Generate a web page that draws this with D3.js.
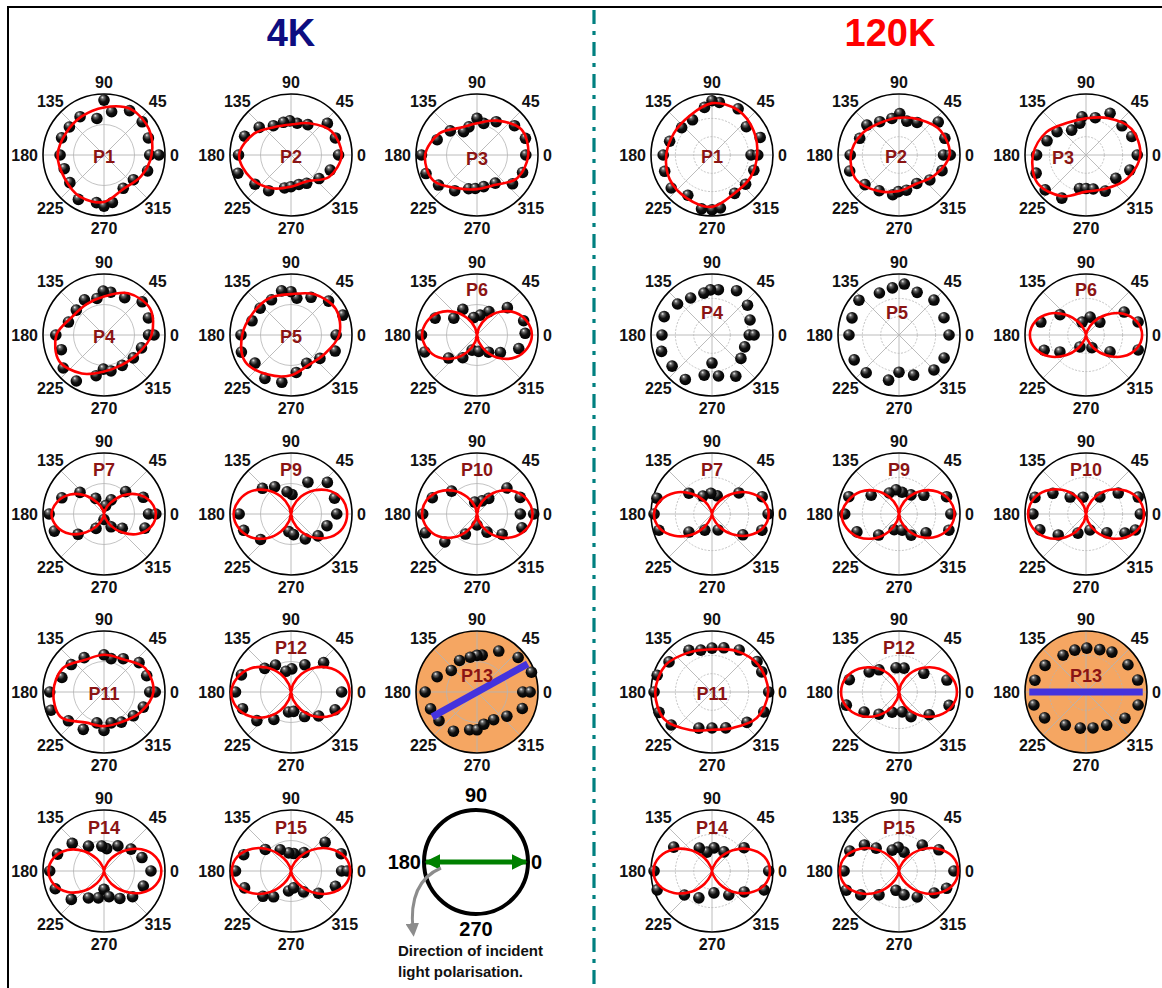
<!DOCTYPE html>
<html>
<head>
<meta charset="utf-8">
<script src="https://cdn.jsdelivr.net/npm/d3@7"></script>
<style>
  html, body { margin: 0; padding: 0; background: #fff; }
  svg { display: block; font-family: "Liberation Sans", Arial, sans-serif; }
</style>
</head>
<body>
<svg id="chart" width="1162" height="988"></svg>
<script>
// ---- Polar-plot data: each point is [angle in degrees, normalised intensity] ----
// Fit curves are radii sampled evenly around the full circle starting at 0 deg.

const temperatures = ["4K", "120K"];
const angleTicks = [0, 45, 90, 135, 180, 225, 270, 315];

// 4 K
const p1_4K = [[0,.75],[0,.90],[21,.78],[41,.83],[60,.84],[80,.72],[90,.90],[101,.61],[122,.74],[141,.73],[158,.75],[180,.72],[199,.69],[219,.72],[240,.84],[261,.79],[270,.84],[280,.79],[300,.63],[320,.63],[340,.76]];
const fit1_4K = [.78,.85,.87,.78,.73,.72,.76,.75,.79,.77,.64,.70];
const p2_4K = [[0,.78],[21,.78],[41,.79],[61,.57],[79,.53],[92,.56],[103,.55],[121,.56],[139,.69],[158,.82],[180,.86],[199,.92],[219,.76],[238,.69],[259,.55],[270,.52],[285,.50],[299,.53],[320,.60],[339,.69]];
const fit2_4K = [.83,.77,.60,.50,.53,.70,.85,.76,.63,.52,.50,.72];
const p3_4K = [[0,.80],[19,.84],[38,.78],[60,.63],[78,.53],[90,.60],[106,.48],[120,.44],[138,.59],[159,.70],[180,.91],[200,.89],[218,.80],[238,.69],[256,.57],[267,.55],[282,.53],[303,.55],[321,.75],[339,.80]];
const fit3_4K = [.84,.84,.65,.52,.52,.71,.85,.83,.63,.56,.57,.76];
const p4_4K = [[0,.73],[0,.82],[21,.78],[41,.83],[61,.70],[81,.71],[91,.72],[101,.61],[119,.66],[138,.61],[160,.62],[180,.79],[199,.74],[219,.86],[239,.88],[259,.68],[269,.56],[281,.60],[301,.58],[322,.61],[341,.65]];
const fit4_4K = [.78,.87,.79,.63,.58,.60,.78,.85,.73,.60,.57,.63];
const p5_4K = [[0,.74],[21,.91],[42,.83],[62,.70],[81,.61],[90,.71],[102,.74],[119,.66],[139,.67],[160,.68],[180,.82],[199,.86],[218,.75],[239,.83],[259,.79],[278,.62],[299,.53],[321,.61],[340,.77]];
const fit5_4K = [.79,.85,.77,.67,.70,.72,.80,.87,.75,.66,.57,.63];
const p6_4K = [[2,.79],[17,.80],[42,.67],[63,.43],[81,.33],[101,.29],[119,.48],[144,.47],[158,.74],[180,.91],[198,.90],[219,.60],[238,.44],[252,.26],[276,.27],[304,.34],[323,.48],[342,.72]];
const fit6_4K = [.90,.85,.73,.54,.32,.12,0,.12,.32,.54,.73,.85,.90,.85,.73,.54,.32,.12,0,.12,.32,.54,.73,.85];
const p7_4K = [[0,.73],[0,.85],[23,.70],[46,.51],[63,.26],[79,.14],[118,.29],[138,.53],[159,.74],[180,.90],[199,.86],[218,.54],[241,.27],[270,.09],[299,.24],[322,.38],[341,.71]];
const fit7_4K = [.85,.79,.64,.43,.21,.06,0,.06,.21,.43,.64,.79,.86,.80,.65,.43,.22,.06,0,.06,.22,.43,.65,.80];
const p9_4K = [[0,.75],[20,.76],[41,.79],[62,.59],[87,.32],[100,.37],[121,.52],[138,.63],[180,.85],[199,.82],[220,.65],[263,.29],[277,.34],[300,.47],[321,.57],[342,.62]];
const fit9_4K = [.92,.88,.75,.55,.33,.12,0,.12,.33,.55,.75,.88,.94,.89,.76,.56,.33,.12,0,.12,.33,.55,.75,.88];
const p10_4K = [[0,.71],[0,.93],[21,.76],[41,.65],[53,.32],[69,.23],[101,.20],[138,.56],[160,.78],[180,.89],[200,.90],[221,.70],[240,.38],[270,.18],[299,.34],[321,.53],[343,.77]];
const fit10_4K = [.91,.86,.73,.54,.32,.12,0,.12,.32,.54,.73,.86,.90,.85,.73,.54,.32,.12,0,.12,.32,.54,.73,.86];
const p11_4K = [[0,.75],[0,.84],[21,.75],[40,.75],[60,.63],[78,.56],[90,.61],[120,.65],[140,.70],[161,.73],[180,.89],[199,.92],[219,.75],[241,.70],[257,.52],[270,.63],[283,.52],[300,.57],[321,.62],[339,.69]];
const fit11_4K = [.81,.78,.62,.61,.61,.78,.83,.82,.58,.56,.57,.68];
const p12_4K = [[0,.83],[42,.72],[63,.50],[88,.38],[104,.35],[120,.51],[138,.58],[161,.86],[180,.91],[199,.84],[220,.73],[238,.53],[263,.33],[278,.32],[299,.46],[319,.60],[338,.78]];
const fit12_4K = [.96,.91,.77,.57,.34,.13,0,.13,.34,.57,.77,.91,.98,.93,.79,.58,.35,.13,0,.13,.34,.57,.77,.91];
const p13_4K = [[0,.75],[0,.87],[20,.95],[40,.88],[62,.76],[82,.61],[90,.60],[101,.58],[119,.59],[140,.55],[159,.70],[180,.85],[200,.81],[217,.78],[239,.75],[259,.63],[270,.62],[282,.54],[301,.53],[321,.63],[340,.79]];
const axis13_4K = [[209,.84],[29,.95]];
const p14_4K = [[0,.77],[19.5,.66],[39,.57],[61,.47],[83,.37],[95,.41],[122,.48],[139,.69],[160,.81],[180,.89],[200,.85],[221,.71],[240,.51],[258,.45],[270,.30],[281,.43],[300,.52],[318,.63],[339,.69]];
const fit14_4K = [.94,.88,.71,.47,.24,.06,0,.06,.23,.46,.69,.85,.91,.85,.69,.46,.23,.06,0,.06,.24,.47,.71,.88];
const p15_4K = [[0,.83],[0,.92],[19,.87],[40,.73],[55,.37],[81,.29],[97,.30],[117,.39],[140,.55],[161,.82],[180,.91],[200,.81],[222,.62],[236,.51],[263,.33],[279,.28],[301,.40],[321,.58],[341,.77]];
const fit15_4K = [.97,.91,.73,.49,.24,.07,0,.07,.24,.49,.73,.91,.97,.91,.73,.49,.24,.07,0,.07,.24,.49,.73,.91];

// 120 K
const p1_120K = [[0,.64],[0,.75],[20,.84],[39.5,.73],[60.5,.87],[82,.87],[90,.89],[99,.79],[119,.66],[138,.67],[162,.73],[180,.80],[199,.82],[219,.86],[239,.77],[259,.90],[270,.90],[279,.88],[300.6,.73],[319,.73],[340,.73]];
const fit1_120K = [.74,.79,.85,.85,.74,.72,.75,.80,.82,.85,.73,.73];
const p2_120K = [[0,.73],[0,.84],[20,.80],[40,.84],[61,.61],[77,.57],[89,.68],[101,.61],[120,.63],[137,.72],[157,.70],[180,.80],[198,.85],[221,.74],[241,.67],[261,.66],[269,.60],[282,.59],[302,.55],[321,.65],[340,.75]];
const fit2_120K = [.83,.79,.67,.61,.61,.70,.79,.81,.68,.59,.55,.67];
const p3_120K = [[0,.84],[22,.81],[39,.76],[60,.79],[76,.63],[96,.63],[101,.53],[120,.47],[141,.61],[160,.68],[180,.81],[200,.87],[220.5,.88],[240.7,.81],[259,.56],[270,.55],[282,.57],[298,.67],[322,.62],[341,.76]];
const fit3_120K = [.89,.86,.70,.60,.61,.75,.87,.92,.78,.60,.64,.78];
const p4_120K = [[0,.61],[0,.69],[21.5,.67],[40,.76],[61,.83],[82,.75],[92,.74],[101,.70],[120,.70],[138,.76],[159,.84],[180,.82],[198,.87],[218,.83],[239,.85],[259,.67],[270,.46],[279,.68],[300,.78],[321,.61],[340,.57]];
const p5_120K = [[0,.82],[21,.79],[45,.81],[67,.76],[84,.84],[98,.78],[115,.76],[139,.87],[160,.82],[180,.82],[209,.84],[229,.82],[257,.76],[270,.61],[290,.70],[315,.81],[333,.83]];
const p6_120K = [[14,.88],[31,.73],[43,.31],[77,.30],[107,.22],[142,.54],[164,.77],[200,.73],[213,.51],[243,.22],[295,.23],[325,.48],[344,.89]];
const fit6_120K = [.92,.86,.70,.47,.24,.06,0,.06,.24,.47,.70,.86,.92,.86,.70,.47,.24,.06,0,.06,.24,.47,.70,.86];
const p7_120K = [[0,.92],[19,.87],[38,.56],[74,.31],[93,.34],[117,.33],[138,.51],[164,.94],[180,.95],[197,.91],[218,.48],[246,.29],[291,.28],[326,.61],[342,.86]];
const fit7_120K = [.93,.87,.70,.47,.24,.06,0,.06,.24,.47,.70,.87,.95,.89,.71,.48,.24,.06,0,.06,.24,.47,.70,.87];
const p9_120K = [[0,.85],[20,.83],[37,.51],[58,.37],[82,.36],[97,.40],[115,.38],[146,.55],[161,.87],[180,.89],[203,.75],[226,.48],[253,.27],[281,.27],[300,.40],[325,.54],[342,.86]];
const fit9_120K = [.91,.86,.73,.54,.32,.12,0,.12,.32,.54,.73,.86,.94,.89,.76,.56,.33,.12,0,.12,.32,.54,.73,.86];
const p10_120K = [[0,.89],[18,.90],[33,.63],[51,.36],[100,.28],[133,.38],[148,.64],[162,.88],[180,.87],[199,.80],[217,.57],[247,.34],[284,.27],[318,.46],[334,.71],[342,.85]];
const fit10_120K = [.95,.90,.76,.56,.34,.13,0,.13,.34,.56,.76,.90,.95,.90,.76,.56,.34,.13,0,.13,.34,.56,.76,.90];
const p11_120K = [[0,.93],[22,.88],[34,.89],[57,.82],[75,.75],[90,.72],[105,.71],[119,.78],[145,.86],[163,.94],[180,.95],[201,.93],[219,.86],[250,.63],[270,.59],[291,.63],[319,.76],[339,.91]];
const fit11_120K = [.92,.88,.78,.70,.75,.88,.93,.90,.72,.62,.68,.85];
const p12_120K = [[14,.81],[37,.51],[78,.40],[97,.40],[132,.49],[146,.59],[166,.84],[194,.89],[210,.66],[228,.49],[251,.35],[279,.33],[296,.45],[323,.62],[345,.85]];
const fit12_120K = [.95,.90,.76,.56,.34,.13,0,.13,.34,.56,.76,.90,.95,.90,.76,.56,.34,.13,0,.13,.34,.56,.76,.90];
const p13_120K = [[13,.87],[33,.82],[57,.78],[72,.73],[89,.72],[105,.71],[122,.71],[147,.80],[167,.86],[194,.88],[212,.80],[238,.64],[261,.60],[281,.60],[302,.64],[326,.77],[346,.88]];
const axis13_120K = [[180,.93],[0,.93]];
const p14_120K = [[0,.93],[36,.65],[58,.37],[85,.38],[105,.32],[119,.43],[148,.74],[180,.95],[199,.95],[221,.60],[244,.49],[275,.36],[305,.48],[327,.63],[340,.91]];
const fit14_120K = [.95,.89,.71,.48,.24,.06,0,.06,.24,.48,.71,.89,.96,.90,.72,.48,.24,.06,0,.06,.24,.48,.71,.89];
const p15_120K = [[0,.90],[28,.74],[48,.57],[75,.32],[92,.39],[108,.36],[135,.53],[143,.71],[158,.87],[180,.90],[200,.92],[212,.74],[230,.51],[261,.32],[282,.40],[305,.52],[328,.68],[340,.83]];
const fit15_120K = [.97,.91,.73,.49,.24,.07,0,.07,.24,.49,.73,.91,.97,.91,.73,.49,.24,.07,0,.07,.24,.49,.73,.91];

// Legend
const legendTicks = [0, 90, 180, 270];
const legendText = ["Direction of incident", "light polarisation."];

// ---- Panel table (grid slot, label, data) ----
const panels = [
  {t:0, row:0, col:0, name:"P1",  pts:p1_4K,  fit:fit1_4K,  lab:[0,2]},
  {t:0, row:0, col:1, name:"P2",  pts:p2_4K,  fit:fit2_4K,  lab:[0,2]},
  {t:0, row:0, col:2, name:"P3",  pts:p3_4K,  fit:fit3_4K,  lab:[0,4]},
  {t:0, row:1, col:0, name:"P4",  pts:p4_4K,  fit:fit4_4K,  lab:[0,2]},
  {t:0, row:1, col:1, name:"P5",  pts:p5_4K,  fit:fit5_4K,  lab:[0,2]},
  {t:0, row:1, col:2, name:"P6",  pts:p6_4K,  fit:fit6_4K,  lab:[0,-45]},
  {t:0, row:2, col:0, name:"P7",  pts:p7_4K,  fit:fit7_4K,  lab:[0,-44]},
  {t:0, row:2, col:1, name:"P9",  pts:p9_4K,  fit:fit9_4K,  lab:[0,-44]},
  {t:0, row:2, col:2, name:"P10", pts:p10_4K, fit:fit10_4K, lab:[0,-44]},
  {t:0, row:3, col:0, name:"P11", pts:p11_4K, fit:fit11_4K, lab:[0,2]},
  {t:0, row:3, col:1, name:"P12", pts:p12_4K, fit:fit12_4K, lab:[0,-44]},
  {t:0, row:3, col:2, name:"P13", pts:p13_4K, axis:axis13_4K, shade:true, lab:[0,-16]},
  {t:0, row:4, col:0, name:"P14", pts:p14_4K, fit:fit14_4K, lab:[0,-43]},
  {t:0, row:4, col:1, name:"P15", pts:p15_4K, fit:fit15_4K, lab:[0,-43]},
  {t:1, row:0, col:0, name:"P1",  pts:p1_120K,  fit:fit1_120K,  lab:[0,2]},
  {t:1, row:0, col:1, name:"P2",  pts:p2_120K,  fit:fit2_120K,  lab:[-3,2]},
  {t:1, row:0, col:2, name:"P3",  pts:p3_120K,  fit:fit3_120K,  lab:[-23,3]},
  {t:1, row:1, col:0, name:"P4",  pts:p4_120K,  lab:[0,-22]},
  {t:1, row:1, col:1, name:"P5",  pts:p5_120K,  lab:[-2,-22]},
  {t:1, row:1, col:2, name:"P6",  pts:p6_120K,  fit:fit6_120K,  lab:[0,-45]},
  {t:1, row:2, col:0, name:"P7",  pts:p7_120K,  fit:fit7_120K,  lab:[0,-44]},
  {t:1, row:2, col:1, name:"P9",  pts:p9_120K,  fit:fit9_120K,  lab:[0,-44]},
  {t:1, row:2, col:2, name:"P10", pts:p10_120K, fit:fit10_120K, lab:[0,-44]},
  {t:1, row:3, col:0, name:"P11", pts:p11_120K, fit:fit11_120K, lab:[0,2]},
  {t:1, row:3, col:1, name:"P12", pts:p12_120K, fit:fit12_120K, lab:[0,-44]},
  {t:1, row:3, col:2, name:"P13", pts:p13_120K, axis:axis13_120K, shade:true, lab:[0,-16]},
  {t:1, row:4, col:0, name:"P14", pts:p14_120K, fit:fit14_120K, lab:[0,-43]},
  {t:1, row:4, col:1, name:"P15", pts:p15_120K, fit:fit15_120K, lab:[0,-43]}
];

// ---- Layout ----
const R = 61;
const colX = [[104, 291, 477], [712, 899, 1086]];
const rowY = [155, 335, 514, 692, 871];
const gridLevels = [[0.5], [0.3, 0.6]];

const svg = d3.select("#chart");
const defs = svg.append("defs");

// shiny sphere marker
const grad = defs.append("radialGradient").attr("id", "ball")
  .attr("cx", "45%").attr("cy", "40%").attr("r", "60%")
  .attr("fx", "35%").attr("fy", "25%");
grad.append("stop").attr("offset", "0%").attr("stop-color", "#f4f4f4");
grad.append("stop").attr("offset", "22%").attr("stop-color", "#6a6a6a");
grad.append("stop").attr("offset", "55%").attr("stop-color", "#111");
grad.append("stop").attr("offset", "100%").attr("stop-color", "#000");

// frame and divider
svg.append("rect").attr("x", 8).attr("y", 7).attr("width", 1200).attr("height", 1000)
  .attr("fill", "none").attr("stroke", "#000").attr("stroke-width", 2);
svg.append("line").attr("x1", 594).attr("x2", 594).attr("y1", 10).attr("y2", 988)
  .attr("stroke", "#008080").attr("stroke-width", 3.2).attr("stroke-dasharray", "14,7,4,7");

// titles
const titleColors = ["#0d0d80", "#ff0000"];
const titleX = [291, 890];
temperatures.forEach((t, i) => {
  svg.append("text").attr("x", titleX[i]).attr("y", 33)
    .attr("text-anchor", "middle").attr("dominant-baseline", "central")
    .attr("font-size", 38).attr("font-weight", "bold").attr("fill", titleColors[i]).text(t);
});

const rad = a => a * Math.PI / 180;
const rScale = d3.scaleLinear().domain([0, 1]).range([0, R]);

function drawPanel(p) {
  const g = svg.append("g").attr("transform", `translate(${colX[p.t][p.col]},${rowY[p.row]})`);
  if (p.shade) g.append("circle").attr("r", R).attr("fill", "#f5a662");

  // grid
  gridLevels[p.t].forEach(l => g.append("circle").attr("r", rScale(l))
    .attr("fill", "none").attr("stroke", "#b4b4b4").attr("stroke-width", 0.8)
    .attr("stroke-dasharray", p.t === 1 ? "2,1.5" : null));
  angleTicks.forEach(a => g.append("line")
    .attr("x1", 0).attr("y1", 0)
    .attr("x2", rScale(1) * Math.cos(rad(a))).attr("y2", -rScale(1) * Math.sin(rad(a)))
    .attr("stroke", "#b4b4b4").attr("stroke-width", 0.9));
  g.append("circle").attr("r", R).attr("fill", "none").attr("stroke", "#000").attr("stroke-width", 1.6);

  // angle labels
  angleTicks.forEach(a => {
    let x, y, anchor = "middle";
    if (a === 0) { x = R + 5; y = 0; anchor = "start"; }
    else if (a === 180) { x = -R - 5; y = 0; anchor = "end"; }
    else if (a === 90 || a === 270) { x = 0; y = (a === 90 ? -1 : 1) * (R + 12); }
    else { const rr = R + 15; x = rr * Math.cos(rad(a)); y = -rr * Math.sin(rad(a)); }
    g.append("text").attr("x", x).attr("y", y).attr("text-anchor", anchor)
      .attr("dominant-baseline", "central").attr("font-size", 16).attr("font-weight", "bold")
      .attr("fill", "#111").text(a);
  });

  // measured points
  g.selectAll("circle.pt").data(p.pts).join("circle").attr("class", "pt")
    .attr("cx", d => rScale(d[1]) * Math.cos(rad(d[0])))
    .attr("cy", d => -rScale(d[1]) * Math.sin(rad(d[0])))
    .attr("r", 5.8).attr("fill", "url(#ball)");

  // fit curve
  if (p.fit) {
    const n = p.fit.length;
    const line = d3.lineRadial()
      .angle((d, i) => rad(90 - i * 360 / n))
      .radius(d => rScale(d))
      .curve(d3.curveCatmullRomClosed.alpha(0.5));
    g.append("path").attr("d", line(p.fit)).attr("fill", "none")
      .attr("stroke", "#ff0000").attr("stroke-width", 2.6);
  }

  // polarisation axis
  if (p.axis) {
    const line = d3.lineRadial().angle(d => rad(90 - d[0])).radius(d => rScale(d[1]));
    g.append("path").attr("d", line(p.axis)).attr("fill", "none")
      .attr("stroke", "#4433dd").attr("stroke-width", 7);
  }

  g.append("text").attr("x", p.lab[0]).attr("y", p.lab[1])
    .attr("text-anchor", "middle").attr("dominant-baseline", "central")
    .attr("font-size", 18).attr("font-weight", "bold").attr("fill", "#8b1414").text(p.name);
}
panels.forEach(drawPanel);

// ---- Legend: polarisation direction ----
const lg = svg.append("g").attr("transform", "translate(476,862)");
const LR = 52;
lg.append("circle").attr("r", LR).attr("fill", "none").attr("stroke", "#000").attr("stroke-width", 4);
legendTicks.forEach(a => {
  let x = 0, y = 0, anchor = "middle";
  if (a === 0) { x = LR + 3; anchor = "start"; }
  else if (a === 180) { x = -LR - 3; anchor = "end"; }
  else y = (a === 90 ? -1 : 1) * (LR + 15);
  lg.append("text").attr("x", x).attr("y", y).attr("text-anchor", anchor)
    .attr("dominant-baseline", "central").attr("font-size", 20).attr("font-weight", "bold").text(a);
});
defs.append("marker").attr("id", "ghead").attr("viewBox", "0 0 10 10").attr("refX", 9).attr("refY", 5)
  .attr("markerWidth", 3.2).attr("markerHeight", 3.2).attr("orient", "auto-start-reverse")
  .append("path").attr("d", "M0,0 L10,5 L0,10 z").attr("fill", "#008000");
lg.append("line").attr("x1", -LR + 2).attr("x2", LR - 2).attr("y1", 0).attr("y2", 0)
  .attr("stroke", "#008000").attr("stroke-width", 5)
  .attr("marker-start", "url(#ghead)").attr("marker-end", "url(#ghead)");
defs.append("marker").attr("id", "grayhead").attr("viewBox", "0 0 10 10").attr("refX", 5).attr("refY", 5)
  .attr("markerWidth", 4.5).attr("markerHeight", 4.5).attr("orient", "auto")
  .append("path").attr("d", "M0,0 L10,5 L0,10 z").attr("fill", "#8c8c8c");
lg.append("path").attr("d", "M-35,6 Q-68,20 -63,68").attr("fill", "none")
  .attr("stroke", "#8c8c8c").attr("stroke-width", 3).attr("marker-end", "url(#grayhead)");
legendText.forEach((t, i) => {
  svg.append("text").attr("x", 398).attr("y", 950 + i * 21).attr("dominant-baseline", "central")
    .attr("font-size", 15).attr("font-weight", "bold").attr("fill", "#111").text(t);
});
</script>
</body>
</html>
